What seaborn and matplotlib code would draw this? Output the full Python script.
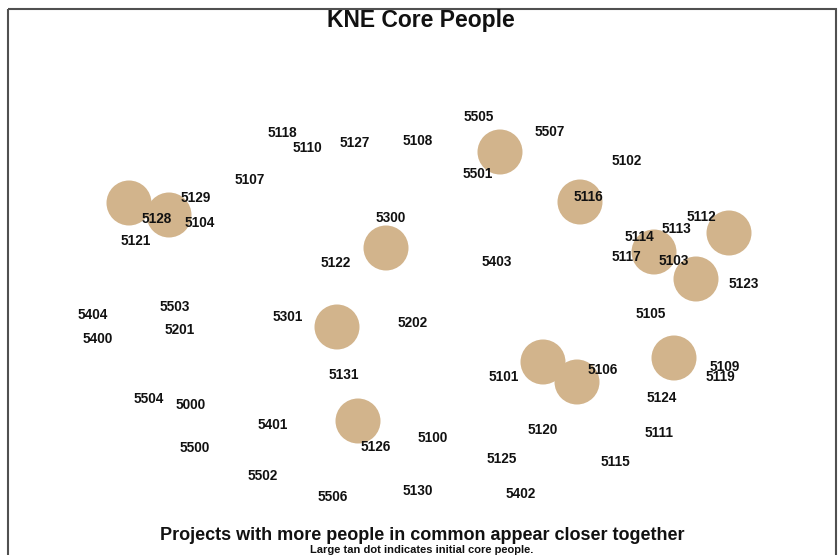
import matplotlib
matplotlib.use("Agg")
import matplotlib.pyplot as plt
import seaborn as sns
import pandas as pd
from matplotlib.patches import Rectangle

sns.set_theme(style="white")
plt.rcParams['font.family'] = ['Liberation Sans', 'DejaVu Sans']

# Project labels and their layout positions (pixel-like layout coordinates)
labels = ["5505", "5507", "5118", "5110", "5127", "5108", "5102", "5501", "5107",
          "5129", "5116", "5300", "5128", "5104", "5112", "5113", "5114", "5121",
          "5122", "5403", "5117", "5103", "5123", "5503", "5404", "5301", "5202",
          "5105", "5201", "5400", "5131", "5109", "5119", "5101", "5106", "5504",
          "5000", "5124", "5401", "5120", "5111", "5100", "5500", "5126", "5125",
          "5115", "5502", "5130", "5506", "5402"]
label_x = [479, 550, 282, 307, 355, 418, 627, 478, 250,
           196, 588, 391, 157, 200, 701, 676, 639, 136,
           336, 497, 626, 674, 744, 175, 93, 288, 413,
           651, 180, 98, 344, 725, 720, 504, 603, 149,
           191, 662, 273, 543, 659, 433, 195, 376, 502,
           615, 263, 418, 333, 521]
label_y = [117, 132, 133, 148, 143, 141, 161, 174, 180,
           198, 197, 218, 219, 223, 217, 229, 237, 241,
           263, 262, 257, 261, 284, 307, 315, 317, 323,
           314, 330, 339, 375, 367, 377, 377, 370, 399,
           405, 398, 425, 430, 433, 438, 448, 447, 459,
           462, 476, 491, 497, 494]

# Initial core people (large tan dots)
core_x = [129, 169, 386, 500, 580, 729, 654, 696, 337, 358, 543, 577, 674]
core_y = [203, 215, 248, 152, 202, 233, 252, 279, 327, 421, 362, 382, 358]

title = "KNE Core People"
footer = "Projects with more people in common appear closer together"
subfooter = "Large tan dot indicates initial core people."

W, H = 838, 555
fig = plt.figure(figsize=(W / 100, H / 100), dpi=100)
ax = fig.add_axes([0, 0, 1, 1])

core_df = pd.DataFrame({"x": core_x, "y": core_y})
sns.scatterplot(data=core_df, x="x", y="y", ax=ax, s=1050, color="#D2B48C",
                edgecolor="none", linewidth=0, legend=False, zorder=2)
ax.set_xlim(0, W)
ax.set_ylim(H, 0)
ax.axis("off")

for lab, x, y in zip(labels, label_x, label_y):
    ax.text(x, y, lab, ha="center", va="center", fontsize=9.8,
            fontweight="bold", color="#111111", zorder=3)

# frame
ax.add_patch(Rectangle((8, 9), 828, 600, fill=False, edgecolor="#505050",
                       linewidth=1.5, zorder=1))

ax.text(421, 21, title, ha="center", va="center", fontsize=16.5,
        fontweight="bold", color="#111111")
ax.text(422, 535, footer, ha="center", va="center", fontsize=13,
        fontweight="bold", color="#111111")
ax.text(422, 550, subfooter, ha="center", va="center", fontsize=8,
        fontweight="bold", color="#111111")

fig.savefig("out.png", dpi=100)
